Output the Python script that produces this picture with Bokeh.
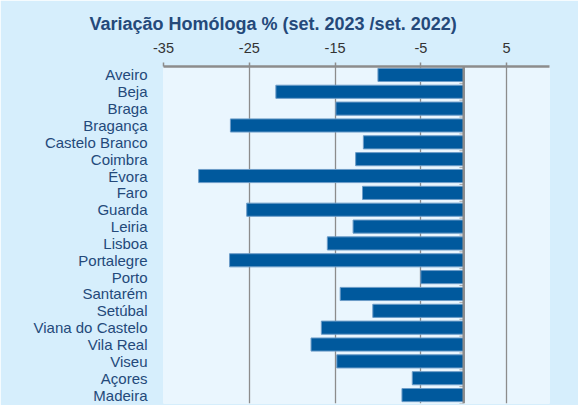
from bokeh.plotting import figure
from bokeh.models import FactorRange, Range1d, FixedTicker, Span, ColumnDataSource, Title, PrintfTickFormatter
from bokeh.transform import dodge
from bokeh.embed import file_html
from bokeh.resources import INLINE

regions = ["Aveiro", "Beja", "Braga", "Bragança", "Castelo Branco", "Coimbra", "Évora",
           "Faro", "Guarda", "Leiria", "Lisboa", "Portalegre", "Porto", "Santarém",
           "Setúbal", "Viana do Castelo", "Vila Real", "Viseu", "Açores", "Madeira"]
variation = [-10.0, -21.9, -14.9, -27.2, -11.7, -12.6, -30.9, -11.8, -25.3, -12.9,
             -15.9, -27.3, -5.0, -14.4, -10.6, -16.6, -17.8, -14.8, -6.0, -7.2]
x_ticks = [-35, -25, -15, -5, 5]

OUTER = "#D6EEFC"
INNER = "#EAF6FE"
BAR = "#00599D"
TXT = "#24497A"
GRID = "#8C8C8C"

src = ColumnDataSource(dict(region=regions, value=variation, zero=[0] * len(regions),
                            tick0=[-0.5] * len(regions)))

p = figure(width=578, height=405, output_backend="svg", toolbar_location=None,
           y_range=FactorRange(factors=list(reversed(regions)), range_padding=0),
           x_range=Range1d(-35, 10), x_axis_location="above", title=None,
           min_border_left=163, min_border_right=29, min_border_top=66, min_border_bottom=2)

p.background_fill_color = INNER
p.border_fill_color = OUTER
p.outline_line_color = None

p.hbar(y="region", left="zero", right="value", height=0.78, source=src,
       fill_color=BAR, line_color="#6C9CC8", line_width=1)

# small category ticks on the zero line
p.segment(x0="tick0", x1="zero", y0=dodge("region", -0.5, range=p.y_range),
          y1=dodge("region", -0.5, range=p.y_range), source=src,
          line_color="#A8A8A8", line_width=1)

p.add_layout(Span(location=0, dimension="height", line_color=GRID, line_width=2.5))

xa = p.xaxis[0]
xa.ticker = FixedTicker(ticks=x_ticks)
xa.formatter = PrintfTickFormatter(format="%d")
xa.axis_line_color = GRID
xa.axis_line_width = 2.5
xa.major_tick_line_color = GRID
xa.major_tick_line_width = 1.5
xa.major_tick_out = 4
xa.major_tick_in = 0
xa.minor_tick_line_color = None
xa.major_label_text_font = "Liberation Sans"
xa.major_label_text_font_size = "14.5px"
xa.major_label_text_color = "#333333"
xa.major_label_standoff = 10

ya = p.yaxis[0]
ya.axis_line_color = None
ya.major_tick_line_color = None
ya.minor_tick_line_color = None
ya.major_label_text_font = "Liberation Sans"
ya.major_label_text_font_size = "15px"
ya.major_label_text_color = TXT
ya.major_label_standoff = 10

p.xgrid.ticker = FixedTicker(ticks=x_ticks)
p.xgrid.grid_line_color = GRID
p.xgrid.grid_line_width = 1.3
p.ygrid.grid_line_color = None

t = Title(text="Variação Homóloga % (set. 2023 /set. 2022)", text_font="Liberation Sans",
          text_font_size="18px", text_font_style="bold", text_color=TXT,
          align="left", offset=-74, standoff=12)
p.add_layout(t, "above")

open("out.html", "w").write(file_html(p, INLINE))
